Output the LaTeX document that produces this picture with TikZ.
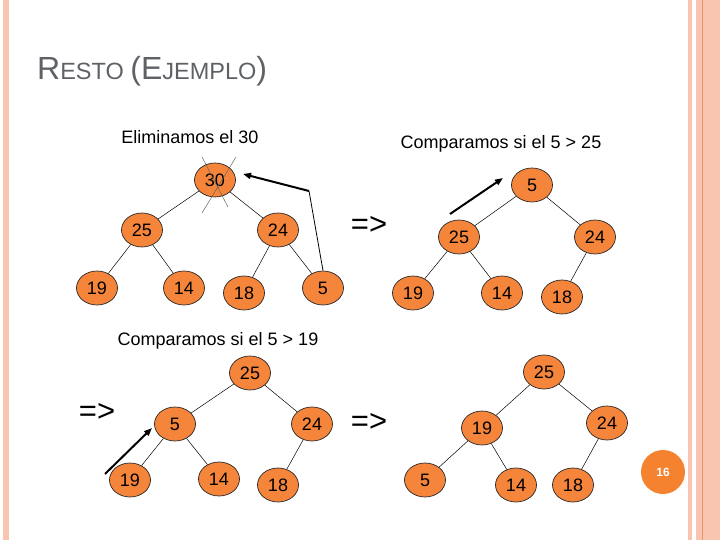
\documentclass[tikz,border=0pt]{standalone}
\usepackage{fontspec}
\setmainfont{Liberation Sans}
\usetikzlibrary{arrows.meta,shapes.geometric,calc}
\definecolor{Naranja}{HTML}{F5853B}
\definecolor{Circulo}{HTML}{F4822F}
\definecolor{Borde}{HTML}{F9C5B1}
\definecolor{BordeOsc}{HTML}{E8956C}
\definecolor{Titulo}{HTML}{5E6166}
\tikzset{
  nodo/.style={ellipse,draw=black!85,line width=0.7pt,fill=Naranja,minimum width=41pt,minimum height=34pt,inner sep=0pt,font=\fontsize{18}{20}\selectfont},
  arista/.style={line width=0.5pt,draw=black},
  flecha/.style={-{Triangle[length=8pt,width=6pt]},line width=2pt,draw=black},
  lbl/.style={font=\fontsize{18}{20}\selectfont},
  impl/.style={font=\fontsize{31}{33}\selectfont},
}
\newcommand{\grande}{\fontsize{32}{34}\selectfont}
\newcommand{\chica}{\fontsize{23.5}{25}\selectfont}

\begin{document}
\begin{tikzpicture}[x=1pt,y=-1pt,line join=round]
\useasboundingbox (0,0) rectangle (720,540);
% marco lateral
\fill[Borde] (3,0) rectangle (9,540);
\fill[Borde] (688,0) rectangle (692,540);
\fill[Borde] (696,0) rectangle (720,540);
\draw[BordeOsc,line width=1pt] (702,0) -- (702,540);

% titulo
\node[anchor=base west,text=Titulo,inner sep=0] (titulo) at (37,80) {\grande R\chica ESTO \grande(E\chica JEMPLO\grande)};

% arbol 1
\node[lbl] (t1) at (190,137) {Eliminamos el 30};
\node[nodo] (a30) at (215,180) {30};
\node[nodo] (a25) at (142,230) {25};
\node[nodo] (a24) at (278,230) {24};
\node[nodo] (a19) at (97,288) {19};
\node[nodo] (a14) at (184,288) {14};
\node[nodo] (a18) at (244,293) {18};
\node[nodo] (a5) at (323,288) {5};
\draw[arista] (a30) -- (a25) (a30) -- (a24) (a25) -- (a19) (a25) -- (a14)
  (a24) -- (a18) (a24) -- (a5);
\draw[black!60,line width=0.5pt] ($(a30)+(-13,-23)$) -- ($(a30)+(13,27)$)
  ($(a30)+(21,-23)$) -- ($(a30)+(-13,33)$);
\coordinate (codo) at (309,191);
\coordinate (punta1) at (243,174);
\draw[line width=0.8pt] (a5.north) -- (codo);
\draw[flecha] (codo) -- (punta1);
\node[impl] (imp1) at (369,225) {=>};

% arbol 2
\node[lbl] (t2) at (501,144) {Comparamos si el 5 > 25};
\node[nodo] (b5) at (532,185) {5};
\node[nodo] (b25) at (459,237) {25};
\node[nodo] (b24) at (595,237) {24};
\node[nodo] (b19) at (413,293) {19};
\node[nodo] (b14) at (502,293) {14};
\node[nodo] (b18) at (562,297) {18};
\draw[arista] (b5) -- (b25) (b5) -- (b24) (b25) -- (b19) (b25) -- (b14)
  (b24) -- (b18);
\coordinate (cola2) at (450,214);
\coordinate (punta2) at (503,178);
\draw[flecha] (cola2) -- (punta2);

% arbol 3
\node[lbl] (t3) at (218,341) {Comparamos si el 5 > 19};
\node[impl] (imp2) at (97,412) {=>};
\node[nodo] (c25) at (250,373) {25};
\node[nodo] (c5) at (175,424) {5};
\node[nodo] (c24) at (312,424) {24};
\node[nodo] (c19) at (130,480) {19};
\node[nodo] (c14) at (219,479) {14};
\node[nodo] (c18) at (278,485) {18};
\draw[arista] (c25) -- (c5) (c25) -- (c24) (c5) -- (c19) (c5) -- (c14)
  (c24) -- (c18);
\coordinate (cola3) at (105,474);
\coordinate (punta3) at (152,428);
\draw[flecha] (cola3) -- (punta3);

% arbol 4
\node[impl] (imp3) at (369,422) {=>};
\node[nodo] (d25) at (544,372) {25};
\node[nodo] (d19) at (482,428) {19};
\node[nodo] (d24) at (607,423) {24};
\node[nodo] (d5) at (425,480) {5};
\node[nodo] (d14) at (516,485) {14};
\node[nodo] (d18) at (573,485) {18};
\draw[arista] (d25) -- (d19) (d25) -- (d24) (d19) -- (d5) (d19) -- (d14)
  (d24) -- (d18);

% pagina
\node[circle,fill=Circulo,minimum size=44pt,inner sep=0pt,text=white,font=\fontsize{12}{14}\selectfont\bfseries] (pagina) at (663,472) {16};
\end{tikzpicture}
\end{document}
